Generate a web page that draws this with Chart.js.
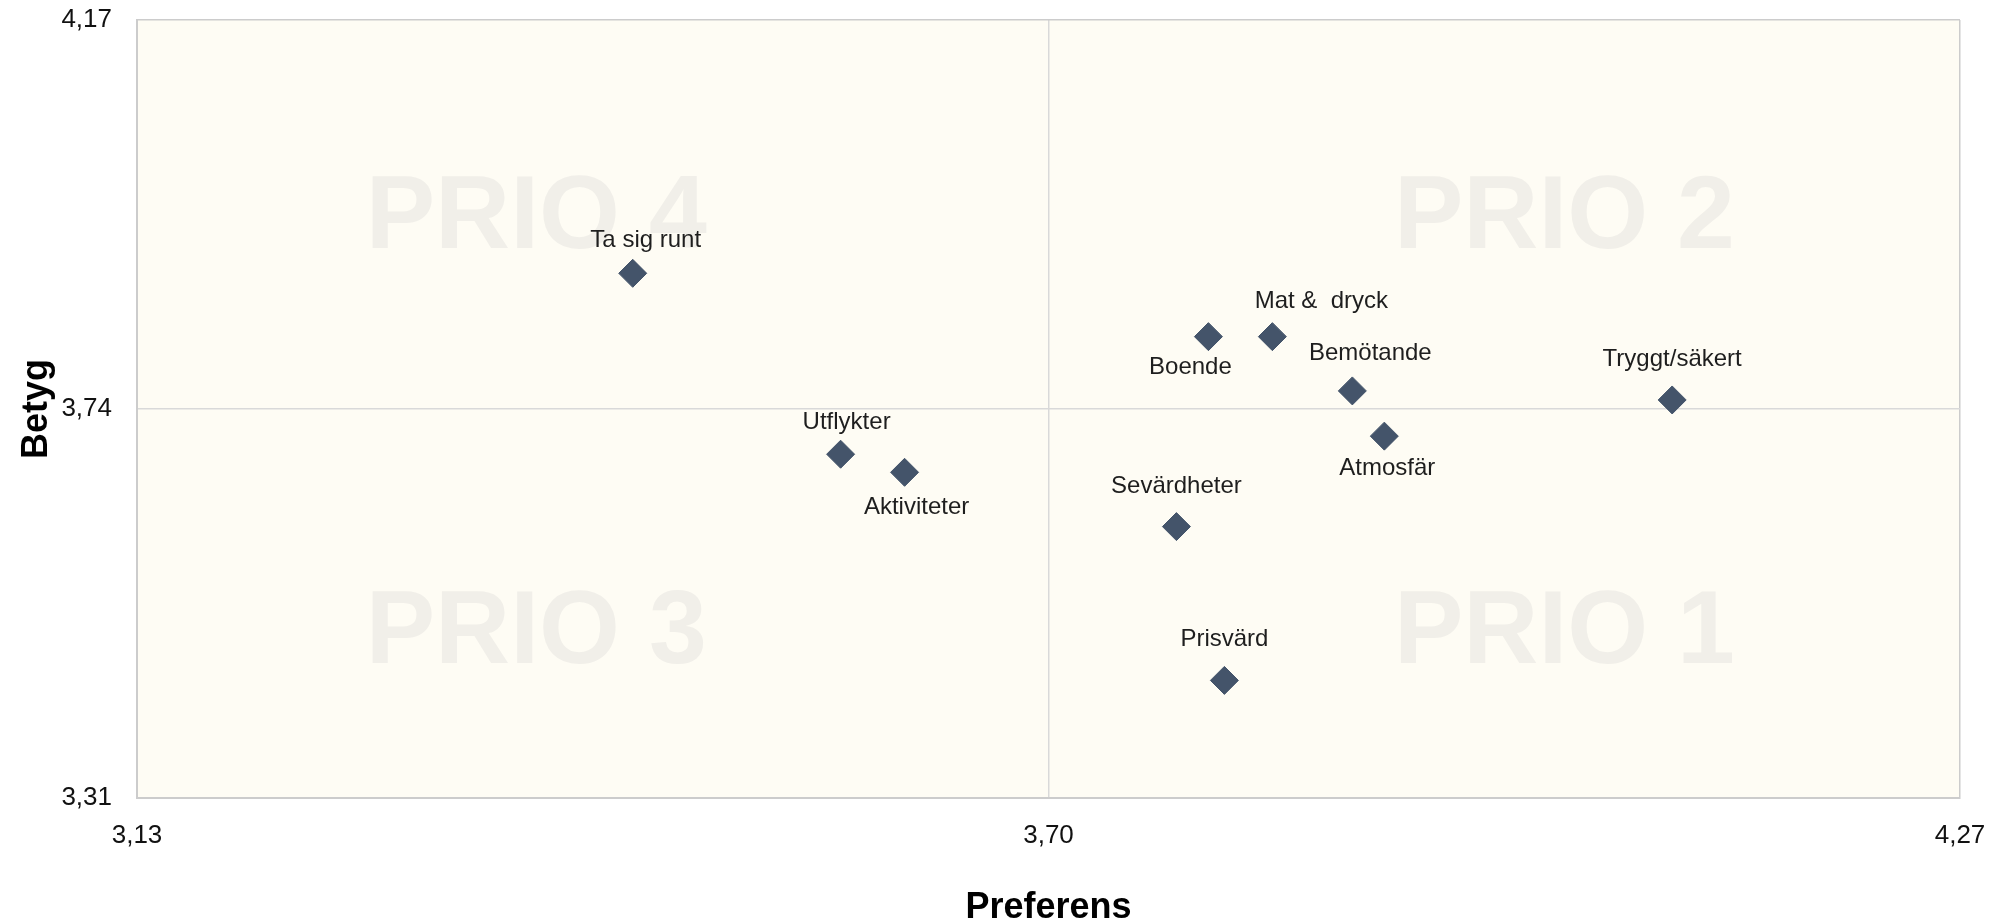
<!DOCTYPE html>
<html lang="sv">
<head>
<meta charset="utf-8">
<title>Preferens / Betyg</title>
<script src="https://cdn.jsdelivr.net/npm/chart.js@4.4.1/dist/chart.umd.min.js"></script>
<style>
    html, body { margin: 0; padding: 0; background: #ffffff; }
    #wrap { width: 2000px; height: 922px; }
</style>
</head>
<body>
<div id="wrap"><canvas id="matrix" width="2000" height="922"></canvas></div>
<script>
// Kategorier och värden (Preferens = x, Betyg = y)
const categories = ['Ta sig runt', 'Utflykter', 'Aktiviteter', 'Boende', 'Mat &  dryck',
    'Bemötande', 'Atmosfär', 'Sevärdheter', 'Prisvärd', 'Tryggt/säkert'];
const preferens = [3.44, 3.57, 3.61, 3.80, 3.84, 3.89, 3.91, 3.78, 3.81, 4.09];
const betyg = [3.89, 3.69, 3.67, 3.82, 3.82, 3.76, 3.71, 3.61, 3.44, 3.75];

const xTickValues = [3.13, 3.70, 4.27];
const yTickValues = [3.31, 3.74, 4.17];

const quadrantNames = ['PRIO 4', 'PRIO 2', 'PRIO 3', 'PRIO 1'];

// layout: var etiketten hamnar relativt punkten (px)
const labelOffsets = [[13, -33], [6, -32], [12, 35], [-18, 31], [49, -35],
    [18, -38], [3, 32], [0, -40], [0, -41], [0, -41]];
// layout: vattenstämplarnas plats som andel av ritytan
const quadrantPos = [[0.219, 0.256], [0.783, 0.256], [0.219, 0.789], [0.783, 0.789]];

const FONT = '"Liberation Sans", Arial, sans-serif';

const fmt = v => Number(v).toFixed(2).replace('.', ',');

const backgroundPlugin = {
    id: 'plotBackground',
    beforeDraw(chart) {
        const { ctx, chartArea: a } = chart;
        ctx.save();
        ctx.fillStyle = '#FEFCF4';
        ctx.fillRect(a.left, a.top, a.right - a.left, a.bottom - a.top);
        ctx.restore();
    }
};

const quadrantPlugin = {
    id: 'quadrants',
    beforeDatasetsDraw(chart) {
        const { ctx, chartArea: a } = chart;
        ctx.save();
        ctx.fillStyle = '#F1EFE9';
        ctx.font = 'bold 104px ' + FONT;
        ctx.textAlign = 'center';
        ctx.textBaseline = 'middle';
        quadrantNames.forEach((name, i) => {
            const [fx, fy] = quadrantPos[i];
            ctx.fillText(name, a.left + fx * (a.right - a.left), a.top + fy * (a.bottom - a.top));
        });
        ctx.restore();
    }
};

const labelPlugin = {
    id: 'pointLabels',
    afterDatasetsDraw(chart) {
        const { ctx } = chart;
        const meta = chart.getDatasetMeta(0);
        ctx.save();
        ctx.fillStyle = '#1e1e1e';
        ctx.font = '24px ' + FONT;
        ctx.textAlign = 'center';
        ctx.textBaseline = 'middle';
        meta.data.forEach((pt, i) => {
            const [dx, dy] = labelOffsets[i];
            ctx.fillText(categories[i], pt.x + dx, pt.y + dy);
        });
        ctx.restore();
    }
};

function gridColor(ticks) {
    return c => {
        const v = c.tick ? c.tick.value : null;
        if (v === ticks[1]) return '#D9D9D9';
        return '#CCCCCC';
    };
}

// skalornas egna marginaler tas bort, layout.padding styr ritytan
function noScalePadding(s) {
    s.paddingTop = 0;
    s.paddingBottom = 0;
    s.paddingLeft = 0;
    s.paddingRight = 0;
}

new Chart(document.getElementById('matrix'), {
    type: 'scatter',
    data: {
        datasets: [{
            data: categories.map((c, i) => ({ x: preferens[i], y: betyg[i] })),
            pointStyle: 'rectRot',
            pointRadius: 14,
            pointHoverRadius: 14,
            backgroundColor: '#44546A',
            borderColor: '#44546A',
            borderWidth: 1
        }]
    },
    options: {
        responsive: false,
        animation: false,
        events: [],
        layout: { padding: { left: 0, right: 40, top: 20, bottom: 0 } },
        plugins: {
            legend: { display: false },
            tooltip: { enabled: false }
        },
        scales: {
            x: {
                type: 'linear',
                min: xTickValues[0],
                max: xTickValues[2],
                afterBuildTicks: s => { s.ticks = xTickValues.map(v => ({ value: v })); },
                afterFit: s => { s.height = 124; noScalePadding(s); },
                grid: { color: gridColor(xTickValues), lineWidth: 1.5, drawTicks: false },
                border: { display: true, color: '#CCCCCC', width: 2 },
                ticks: {
                    padding: 22,
                    color: '#111111',
                    font: { family: FONT, size: 26 },
                    callback: v => fmt(v)
                },
                title: {
                    display: true,
                    text: 'Preferens',
                    color: '#000000',
                    font: { family: FONT, size: 36, weight: 'bold', lineHeight: 1 },
                    padding: { top: 0, bottom: -4 }
                }
            },
            y: {
                type: 'linear',
                min: yTickValues[0],
                max: yTickValues[2],
                afterBuildTicks: s => { s.ticks = yTickValues.map(v => ({ value: v })); },
                afterFit: s => { s.width = 137; noScalePadding(s); },
                grid: { color: gridColor(yTickValues), lineWidth: 1.5, drawTicks: false },
                border: { display: true, color: '#CCCCCC', width: 2 },
                ticks: {
                    padding: 25,
                    color: '#111111',
                    font: { family: FONT, size: 26 },
                    callback: v => fmt(v)
                },
                title: {
                    display: true,
                    text: 'Betyg',
                    color: '#000000',
                    font: { family: FONT, size: 36, weight: 'bold', lineHeight: 1 },
                    padding: { top: 19, bottom: 0 }
                }
            }
        }
    },
    plugins: [backgroundPlugin, quadrantPlugin, labelPlugin]
});
</script>
</body>
</html>
